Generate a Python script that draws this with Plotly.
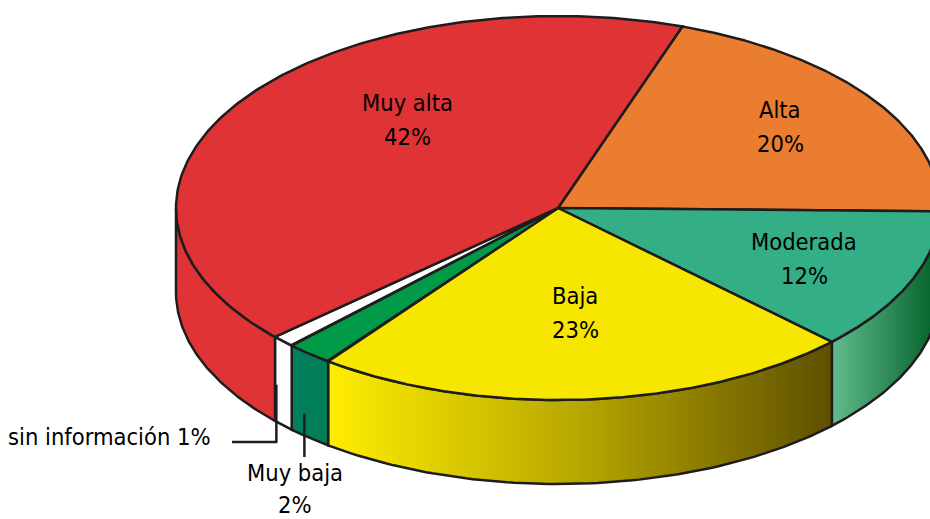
import numpy as np
import plotly.graph_objects as go

# ---------------- data ----------------
categories = ["Alta", "Moderada", "Baja", "Muy baja", "sin información", "Muy alta"]
values = [20, 12, 23, 2, 1, 42]

# ---------------- style ----------------
top_colors = ["#EA7D2F", "#33AE86", "#F7E600", "#009A48", "#FFFFFF", "#E03336"]
wall_fills = [
    ("solid", "#E56F22"),
    ("grad", [[0, "#62BC8E"], [1, "#005E26"]]),
    ("grad", [[0, "#FFEE00"], [0.5, "#B7A600"], [1, "#5E5000"]]),
    ("solid", "#007F5A"),
    ("solid", "#FFFFFF"),
    ("solid", "#E03336"),
]
EDGE = "#1E1C1D"
LW = 2.5
CX, CY, RX, RY, DEPTH = 558, 208, 382, 192, 84
START = 71.0
FONT = "Liberation Sans Narrow, Arial Narrow, DejaVu Sans Condensed, sans-serif"
FS = 23.5
LINE_GAP = 17  # half the spacing between name line and value line
# label anchor positions (layout), keyed by category
label_pos = {
    "Muy alta": (407, 120),
    "Alta": (780, 127),
    "Moderada": (804, 259),
    "Baja": (575, 313),
}


def pt(t):
    r = np.radians(t)
    return CX + RX * np.cos(r), CY - RY * np.sin(r)


fig = go.Figure()

# slice angle ranges (clockwise from START)
ranges = []
a0 = START
for v in values:
    a1 = a0 - v * 3.6
    ranges.append((a1, a0))
    a0 = a1

# side walls (visible front half: -180..0)
for (a1, a0), (kind, fillspec) in zip(ranges, wall_fills):
    lo, hi = max(a1, -180.0), min(a0, 0.0)
    if hi <= lo:
        continue
    ts = np.linspace(lo, hi, 80)
    xt, yt = pt(ts)
    xb, yb = pt(ts[::-1])
    xs = np.concatenate([xt, xb, xt[:1]])
    ys = np.concatenate([yt, yb + DEPTH, yt[:1]])
    kw = dict(x=xs, y=ys, mode="lines", fill="toself",
              line=dict(color=EDGE, width=LW), hoverinfo="skip", showlegend=False)
    if kind == "solid":
        kw["fillcolor"] = fillspec
    else:
        kw["fillgradient"] = dict(type="horizontal", colorscale=fillspec)
    fig.add_trace(go.Scatter(**kw))

# top faces
for (a1, a0), col in zip(ranges, top_colors):
    ts = np.linspace(a0, a1, 200)
    xa, ya = pt(ts)
    xs = np.concatenate([[CX], xa, [CX]])
    ys = np.concatenate([[CY], ya, [CY]])
    fig.add_trace(go.Scatter(x=xs, y=ys, mode="lines", fill="toself", fillcolor=col,
                             line=dict(color=EDGE, width=LW),
                             hoverinfo="skip", showlegend=False))


def two_line(x, y, top, bottom, gap=LINE_GAP):
    for yy, txt in ((y - gap, top), (y + gap, bottom)):
        fig.add_annotation(x=x, y=yy, text=txt, showarrow=False,
                           font=dict(family=FONT, size=FS, color="black"),
                           xanchor="center", yanchor="middle")


# labels inside slices
for cat, v in zip(categories, values):
    if cat in label_pos:
        x, y = label_pos[cat]
        two_line(x, y, cat, f"{v}%")

# small-slice labels with leader lines
idx_si = categories.index("sin información")
idx_mb = categories.index("Muy baja")
mid_si = sum(ranges[idx_si]) / 2
mid_mb = sum(ranges[idx_mb]) / 2
x_si, y_si = pt(mid_si - 1.5)
x_mb, y_mb = pt(mid_mb)

fig.add_shape(type="line", x0=x_si, x1=x_si, y0=y_si + 47, y1=442,
              line=dict(color=EDGE, width=LW))
fig.add_shape(type="line", x0=232, x1=x_si + 1, y0=442, y1=442,
              line=dict(color=EDGE, width=LW))
fig.add_shape(type="line", x0=x_mb - 5, x1=x_mb - 5, y0=y_mb + 60, y1=457,
              line=dict(color=EDGE, width=LW))

fig.add_annotation(x=213, y=437, text=f"{categories[idx_si]} {values[idx_si]}%",
                   showarrow=False, xanchor="right", yanchor="middle",
                   font=dict(family=FONT, size=FS, color="black"))
two_line(x_mb - 14, 489, categories[idx_mb], f"{values[idx_mb]}%", gap=16)

fig.update_layout(
    width=930, height=519,
    margin=dict(l=0, r=0, t=0, b=0),
    paper_bgcolor="white", plot_bgcolor="white",
    xaxis=dict(range=[0, 930], visible=False, fixedrange=True),
    yaxis=dict(range=[519, 0], visible=False, fixedrange=True),
    showlegend=False,
)

fig.write_html("out.html", config={"displayModeBar": False},
               post_script="document.body.style.margin='0px';")
